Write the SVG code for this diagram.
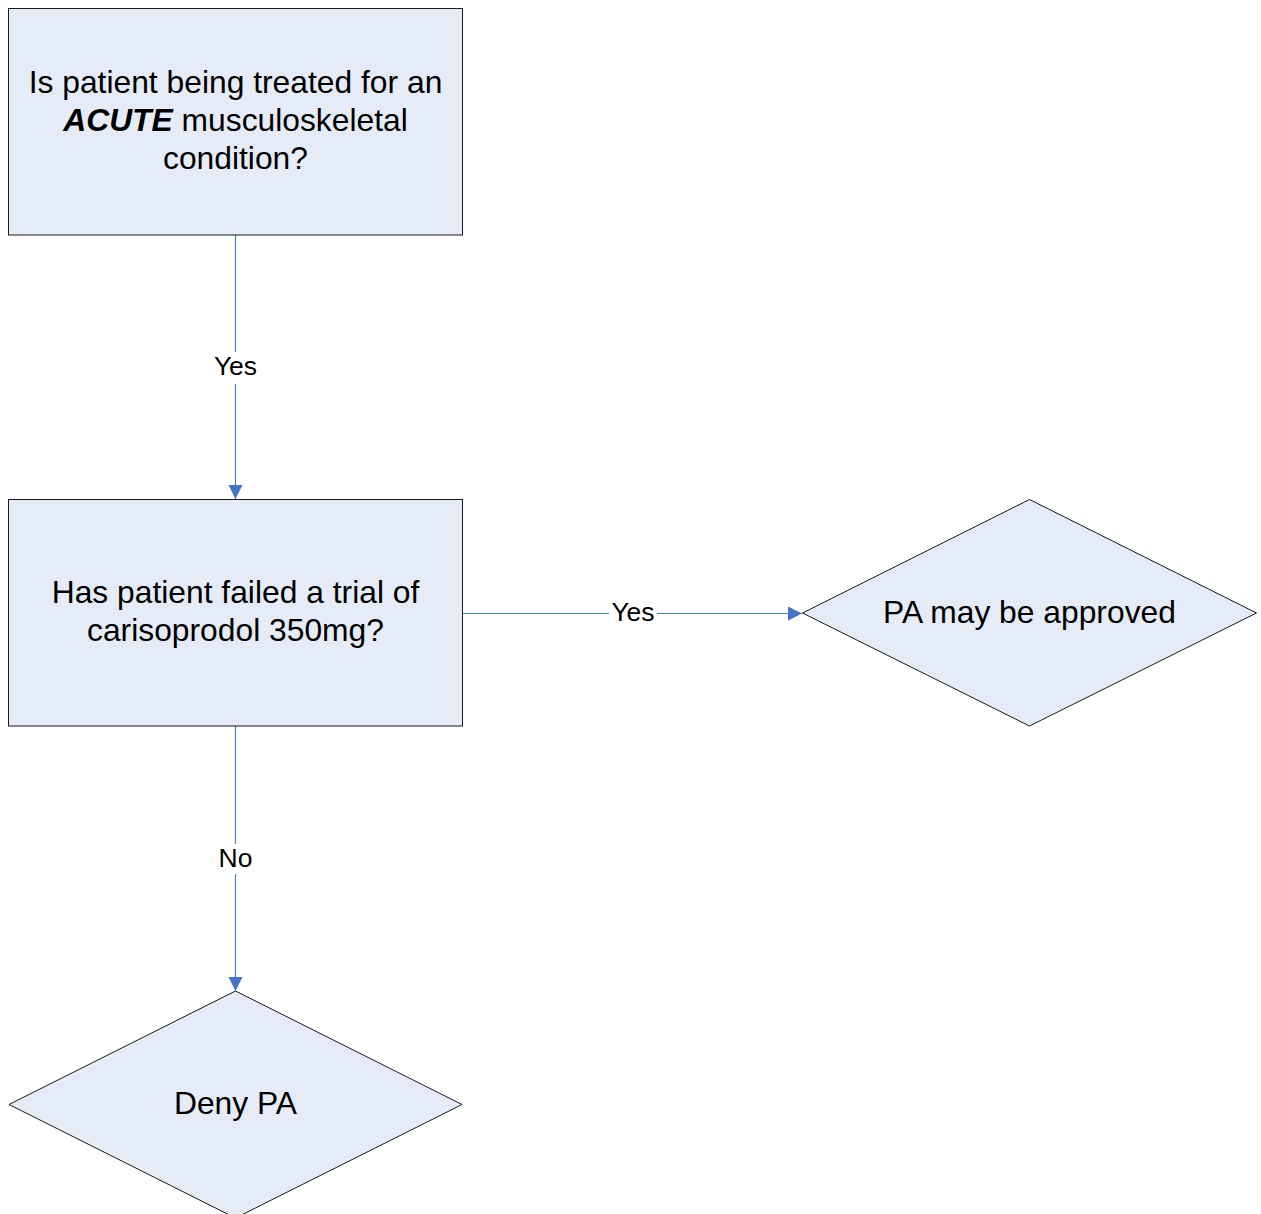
<svg xmlns="http://www.w3.org/2000/svg" width="1261" height="1214" viewBox="0 0 1261 1214">
<style>
.node{fill:#E6ECF7;stroke:#1a1a1a;stroke-width:1}
.t{font-family:"Liberation Sans",Arial,sans-serif;font-size:31.8px;fill:#000;text-anchor:middle}
.lbl{font-family:"Liberation Sans",Arial,sans-serif;font-size:26.5px;fill:#000;text-anchor:middle}
.edge{stroke:#4F81BD;stroke-width:1.2;fill:none}
</style>
<defs>
<marker id="arr" markerWidth="16" markerHeight="16" refX="14" refY="7" orient="auto" markerUnits="userSpaceOnUse">
<path d="M0,0 L14,7 L0,14 Z" fill="#4472C4"/>
</marker>
</defs>
<rect width="1261" height="1214" fill="#fff"/>
<g id="connectors">
<path class="edge" d="M235.5,235 V352 M235.5,384 V499" marker-end="url(#arr)"/>
<path class="edge" d="M462.5,613.5 H609 M657,613.5 H802" marker-end="url(#arr)"/>
<path class="edge" d="M235.5,726 V844 M235.5,874 V991" marker-end="url(#arr)"/>
<text class="lbl" x="235.5" y="375">Yes</text>
<text class="lbl" x="633" y="621">Yes</text>
<text class="lbl" x="235.5" y="867">No</text>
</g>
<g id="n1">
<rect class="node" x="8.5" y="8.5" width="454" height="226.5"/>
<text class="t" x="235.5" y="93">Is patient being treated for an</text>
<text class="t" x="235.5" y="131"><tspan font-weight="bold" font-style="italic">ACUTE</tspan> musculoskeletal</text>
<text class="t" x="235.5" y="169">condition?</text>
</g>
<g id="n2">
<rect class="node" x="8.5" y="499.5" width="454" height="226.5"/>
<text class="t" x="235.5" y="603">Has patient failed a trial of</text>
<text class="t" x="235.5" y="641">carisoprodol 350mg?</text>
</g>
<g id="n3">
<polygon class="node" points="1029.5,499.5 1256.5,613 1029.5,726 802.5,613"/>
<text class="t" x="1029.5" y="623">PA may be approved</text>
</g>
<g id="n4">
<polygon class="node" points="235.5,991 462,1104.5 235.5,1218 9,1104.5"/>
<text class="t" x="235.5" y="1114">Deny PA</text>
</g>
</svg>
